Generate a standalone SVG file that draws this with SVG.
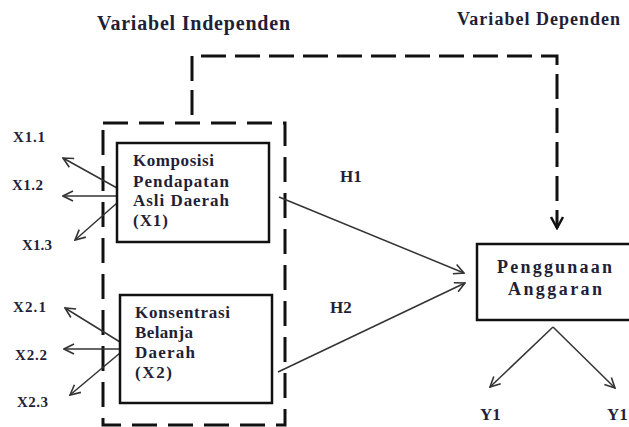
<svg xmlns="http://www.w3.org/2000/svg" width="629" height="427" viewBox="0 0 629 427">
<defs>
<style>
.t{font-family:"Liberation Serif","Times New Roman",serif;font-weight:bold;fill:#1f1f38;}
.box{fill:#fff;stroke:#111;stroke-width:2.5;}
.dash{fill:none;stroke:#111;stroke-width:3;stroke-dasharray:25 11;}
.ln{fill:none;stroke:#333;stroke-width:1.5;}
</style>
<marker id="ah" viewBox="0 0 12 12" refX="11" refY="6" markerWidth="12" markerHeight="12" markerUnits="userSpaceOnUse" orient="auto">
<path d="M1,1 L11,6 L1,11" fill="none" stroke="#333" stroke-width="1.6"/>
</marker>
<marker id="ahd" viewBox="0 0 14 14" refX="12" refY="7" markerWidth="14" markerHeight="14" markerUnits="userSpaceOnUse" orient="auto">
<path d="M1,1 L12,7 L1,13" fill="none" stroke="#111" stroke-width="2.5"/>
</marker>
</defs>
<rect width="629" height="427" fill="#fff"/>

<g id="titles">
<text class="t" x="97" y="30" font-size="20" textLength="193" lengthAdjust="spacing">Variabel Independen</text>
<text class="t" x="457" y="25" font-size="18" textLength="163" lengthAdjust="spacing">Variabel Dependen</text>
</g>

<g id="connectors">
<rect class="dash" x="103" y="123" width="182" height="302"/>
<path class="dash" d="M192,115 L192,56 L557,56 L557,228" marker-end="url(#ahd)" style="stroke-dasharray:25 9"/>
<line class="ln" x1="117" y1="188" x2="63" y2="158" marker-end="url(#ah)"/>
<line class="ln" x1="117" y1="196" x2="63" y2="196" marker-end="url(#ah)"/>
<line class="ln" x1="117" y1="203" x2="75" y2="240" marker-end="url(#ah)"/>
<line class="ln" x1="120" y1="342" x2="65" y2="308" marker-end="url(#ah)"/>
<line class="ln" x1="124" y1="349" x2="64" y2="349" marker-end="url(#ah)"/>
<line class="ln" x1="120" y1="353" x2="70" y2="395" marker-end="url(#ah)"/>
<line class="ln" x1="279" y1="197" x2="464" y2="273" marker-end="url(#ah)"/>
<line class="ln" x1="278" y1="372" x2="465" y2="283" marker-end="url(#ah)"/>
<line class="ln" x1="553" y1="327" x2="490" y2="387" marker-end="url(#ah)"/>
<line class="ln" x1="553" y1="327" x2="615" y2="388" marker-end="url(#ah)"/>
</g>

<g id="node-x1">
<rect class="box" x="117" y="143" width="152" height="99"/>
<text class="t" x="133" y="166" font-size="17" textLength="81" lengthAdjust="spacing">Komposisi</text>
<text class="t" x="133" y="187" font-size="17" textLength="96" lengthAdjust="spacing">Pendapatan</text>
<text class="t" x="133" y="206" font-size="17" textLength="96" lengthAdjust="spacing">Asli Daerah</text>
<text class="t" x="133" y="226" font-size="17" textLength="35" lengthAdjust="spacing">(X1)</text>
</g>

<g id="node-x2">
<rect class="box" x="120" y="295" width="152" height="108"/>
<text class="t" x="135" y="318" font-size="17" textLength="95" lengthAdjust="spacing">Konsentrasi</text>
<text class="t" x="135" y="338" font-size="17" textLength="58" lengthAdjust="spacing">Belanja</text>
<text class="t" x="135" y="358" font-size="17" textLength="60" lengthAdjust="spacing">Daerah</text>
<text class="t" x="135" y="378" font-size="17" textLength="37" lengthAdjust="spacing">(X2)</text>
</g>

<g id="node-y">
<rect class="box" x="477" y="244" width="154" height="76"/>
<text class="t" x="497" y="273" font-size="18" textLength="115" lengthAdjust="spacing">Penggunaan</text>
<text class="t" x="508" y="295" font-size="18" textLength="94" lengthAdjust="spacing">Anggaran</text>
</g>

<g id="indicators">
<text class="t" x="13" y="142" font-size="15" textLength="32" lengthAdjust="spacing">X1.1</text>
<text class="t" x="12" y="190" font-size="15" textLength="31" lengthAdjust="spacing">X1.2</text>
<text class="t" x="22" y="250" font-size="15" textLength="30" lengthAdjust="spacing">X1.3</text>
<text class="t" x="13" y="312" font-size="15" textLength="33" lengthAdjust="spacing">X2.1</text>
<text class="t" x="15" y="360" font-size="15" textLength="32" lengthAdjust="spacing">X2.2</text>
<text class="t" x="17" y="407" font-size="15" textLength="31" lengthAdjust="spacing">X2.3</text>
<text class="t" x="480" y="420" font-size="17">Y1</text>
<text class="t" x="607" y="420" font-size="17">Y1</text>
<text class="t" x="340" y="182" font-size="17">H1</text>
<text class="t" x="330" y="313" font-size="17">H2</text>
</g>
</svg>
